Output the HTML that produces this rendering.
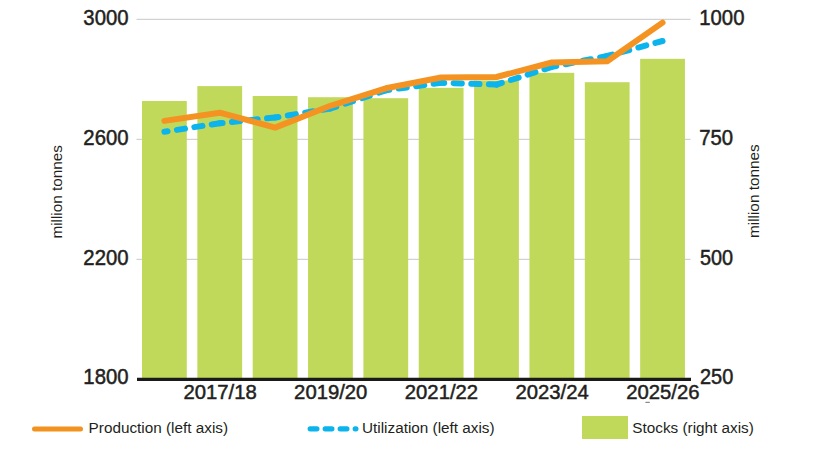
<!DOCTYPE html>
<html><head><meta charset="utf-8"><style>
html,body{margin:0;padding:0;background:#fff;width:820px;height:462px;overflow:hidden}
svg{display:block}
</style></head><body>
<svg width="820" height="462" viewBox="0 0 820 462">
<rect width="820" height="462" fill="#fff"/>
<line x1="136.5" x2="690.5" y1="19.3" y2="19.3" stroke="#D2D2D2" stroke-width="1.3"/><line x1="136.5" x2="690.5" y1="139.3" y2="139.3" stroke="#D2D2D2" stroke-width="1.3"/><line x1="136.5" x2="690.5" y1="259.3" y2="259.3" stroke="#D2D2D2" stroke-width="1.3"/>
<rect x="142.00" y="101.00" width="44.8" height="278.30" fill="#C1D95A"/><rect x="197.35" y="86.10" width="44.8" height="293.20" fill="#C1D95A"/><rect x="252.70" y="96.00" width="44.8" height="283.30" fill="#C1D95A"/><rect x="308.05" y="97.20" width="44.8" height="282.10" fill="#C1D95A"/><rect x="363.40" y="98.20" width="44.8" height="281.10" fill="#C1D95A"/><rect x="418.75" y="87.80" width="44.8" height="291.50" fill="#C1D95A"/><rect x="474.10" y="80.50" width="44.8" height="298.80" fill="#C1D95A"/><rect x="529.45" y="72.80" width="44.8" height="306.50" fill="#C1D95A"/><rect x="584.80" y="82.20" width="44.8" height="297.10" fill="#C1D95A"/><rect x="640.15" y="58.80" width="44.8" height="320.50" fill="#C1D95A"/>
<line x1="137" x2="691" y1="379.3" y2="379.3" stroke="#1A1A1A" stroke-width="3.2"/>
<line x1="164.40" y1="131.80" x2="219.75" y2="123.20" stroke="#0BB4EC" stroke-width="6" stroke-linecap="round" stroke-dasharray="8.2 9.44" stroke-dashoffset="4.97"/><line x1="219.75" y1="123.20" x2="275.10" y2="117.50" stroke="#0BB4EC" stroke-width="6" stroke-linecap="round" stroke-dasharray="8.2 9.44" stroke-dashoffset="5.37"/><line x1="275.10" y1="117.50" x2="330.45" y2="108.50" stroke="#0BB4EC" stroke-width="6" stroke-linecap="round" stroke-dasharray="8.2 9.44" stroke-dashoffset="4.78"/><line x1="330.45" y1="108.50" x2="385.80" y2="90.30" stroke="#0BB4EC" stroke-width="6" stroke-linecap="round" stroke-dasharray="8.2 9.44" stroke-dashoffset="2.08"/><line x1="385.80" y1="90.30" x2="441.15" y2="82.80" stroke="#0BB4EC" stroke-width="6" stroke-linecap="round" stroke-dasharray="8.2 9.44" stroke-dashoffset="4.67"/><line x1="441.15" y1="82.80" x2="496.50" y2="84.60" stroke="#0BB4EC" stroke-width="6" stroke-linecap="round" stroke-dasharray="8.2 9.44" stroke-dashoffset="5.14"/><line x1="496.50" y1="84.60" x2="551.85" y2="66.90" stroke="#0BB4EC" stroke-width="6" stroke-linecap="round" stroke-dasharray="8.2 9.44" stroke-dashoffset="2.59"/><line x1="551.85" y1="66.90" x2="607.20" y2="56.00" stroke="#0BB4EC" stroke-width="6" stroke-linecap="round" stroke-dasharray="8.2 9.44" stroke-dashoffset="3.69"/><line x1="607.20" y1="56.00" x2="662.55" y2="41.00" stroke="#0BB4EC" stroke-width="6" stroke-linecap="round" stroke-dasharray="8.2 9.44" stroke-dashoffset="2.99"/>
<polyline points="164.40,120.90 219.75,112.70 275.10,127.60 330.45,105.80 385.80,88.30 441.15,77.50 496.50,77.00 551.85,62.50 607.20,61.30 662.55,22.60" fill="none" stroke="#F49322" stroke-width="6" stroke-linecap="round" stroke-linejoin="round"/>
<text transform="translate(128.5,24.7) scale(0.94,1)" text-anchor="end" style='font-family:"Liberation Sans",sans-serif;font-size:21.6px;fill:#231F20;stroke:#231F20;stroke-width:0.5px'>3000</text><text transform="translate(128.5,144.5) scale(0.94,1)" text-anchor="end" style='font-family:"Liberation Sans",sans-serif;font-size:21.6px;fill:#231F20;stroke:#231F20;stroke-width:0.5px'>2600</text><text transform="translate(128.5,264.5) scale(0.94,1)" text-anchor="end" style='font-family:"Liberation Sans",sans-serif;font-size:21.6px;fill:#231F20;stroke:#231F20;stroke-width:0.5px'>2200</text><text transform="translate(128.5,384.3) scale(0.94,1)" text-anchor="end" style='font-family:"Liberation Sans",sans-serif;font-size:21.6px;fill:#231F20;stroke:#231F20;stroke-width:0.5px'>1800</text><text transform="translate(699.3,24.8) scale(0.94,1)" style='font-family:"Liberation Sans",sans-serif;font-size:21.6px;fill:#231F20;stroke:#231F20;stroke-width:0.5px'>1000</text><text transform="translate(699.3,144.8) scale(0.94,1)" style='font-family:"Liberation Sans",sans-serif;font-size:21.6px;fill:#231F20;stroke:#231F20;stroke-width:0.5px'>750</text><text transform="translate(700.0,264.8) scale(0.92,1)" style='font-family:"Liberation Sans",sans-serif;font-size:21.6px;fill:#231F20;stroke:#231F20;stroke-width:0.5px'>500</text><text transform="translate(700.0,384.4) scale(0.925,1)" style='font-family:"Liberation Sans",sans-serif;font-size:21.6px;fill:#231F20;stroke:#231F20;stroke-width:0.5px'>250</text><text transform="translate(220.05,399.1) scale(0.975,1)" text-anchor="middle" style='font-family:"Liberation Sans",sans-serif;font-size:21.6px;fill:#231F20;stroke:#231F20;stroke-width:0.5px;font-size:20.8px'>2017/18</text><text transform="translate(330.75,399.1) scale(0.975,1)" text-anchor="middle" style='font-family:"Liberation Sans",sans-serif;font-size:21.6px;fill:#231F20;stroke:#231F20;stroke-width:0.5px;font-size:20.8px'>2019/20</text><text transform="translate(441.45,399.1) scale(0.975,1)" text-anchor="middle" style='font-family:"Liberation Sans",sans-serif;font-size:21.6px;fill:#231F20;stroke:#231F20;stroke-width:0.5px;font-size:20.8px'>2021/22</text><text transform="translate(552.15,399.1) scale(0.975,1)" text-anchor="middle" style='font-family:"Liberation Sans",sans-serif;font-size:21.6px;fill:#231F20;stroke:#231F20;stroke-width:0.5px;font-size:20.8px'>2023/24</text><text transform="translate(662.85,399.1) scale(0.975,1)" text-anchor="middle" style='font-family:"Liberation Sans",sans-serif;font-size:21.6px;fill:#231F20;stroke:#231F20;stroke-width:0.5px;font-size:20.8px'>2025/26</text>
<rect x="645.3" y="401.8" width="4.6" height="1.2" rx="0.6" fill="#8A8A8A"/>
<text transform="translate(62,191.8) rotate(-90)" text-anchor="middle" style='font-family:"Liberation Sans",sans-serif;font-size:15.3px;fill:#231F20'>million tonnes</text>
<text transform="translate(758.6,191.2) rotate(-90)" text-anchor="middle" style='font-family:"Liberation Sans",sans-serif;font-size:15.3px;fill:#231F20'>million tonnes</text>
<line x1="34.5" x2="80.5" y1="428.9" y2="428.9" stroke="#F2921F" stroke-width="5" stroke-linecap="round"/>
<text x="88.6" y="432.8" style='font-family:"Liberation Sans",sans-serif;font-size:15.3px;fill:#231F20'>Production (left axis)</text>
<line x1="310.2" x2="355.9" y1="428.8" y2="428.8" stroke="#0BB4EC" stroke-width="5.2" stroke-linecap="round" stroke-dasharray="6.7 8.3"/>
<text x="362.0" y="432.8" style='font-family:"Liberation Sans",sans-serif;font-size:15.3px;fill:#231F20'>Utilization (left axis)</text>
<rect x="582" y="416" width="46" height="23" fill="#C1D95A"/>
<text x="632.3" y="432.7" style='font-family:"Liberation Sans",sans-serif;font-size:15.3px;fill:#231F20'>Stocks (right axis)</text>
</svg>
</body></html>
